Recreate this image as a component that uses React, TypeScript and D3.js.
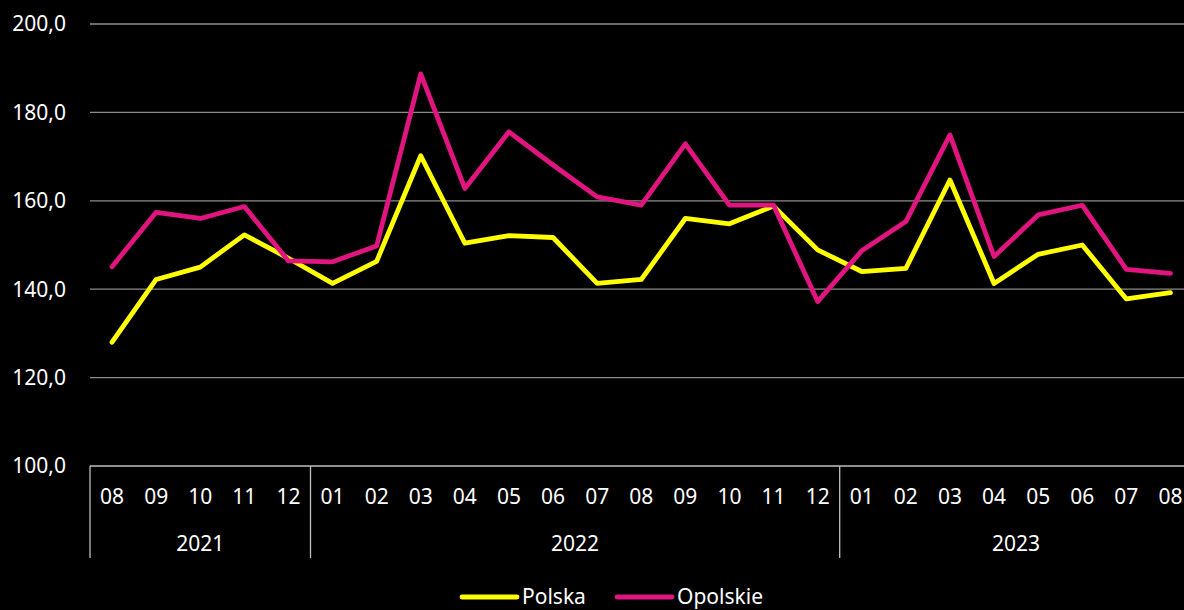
import * as React from "react";
import * as d3 from "d3";

const months = [
  "08", "09", "10", "11", "12",
  "01", "02", "03", "04", "05", "06", "07", "08", "09", "10", "11", "12",
  "01", "02", "03", "04", "05", "06", "07", "08",
];
const years = ["2021", "2022", "2023"];
const monthsPerYear = [5, 12, 8];

const polska = [
  128.0, 142.2, 145.0, 152.3, 147.0,
  141.3, 146.3, 170.2, 150.4, 152.1, 151.7, 141.3, 142.2, 156.0, 154.8, 158.8, 148.9,
  144.0, 144.7, 164.7, 141.3, 147.9, 150.0, 137.8, 139.2,
];
const opolskie = [
  145.1, 157.4, 156.0, 158.7, 146.4,
  146.2, 149.8, 188.7, 162.8, 175.6, 168.1, 160.9, 159.0, 172.9, 159.0, 159.0, 137.2,
  148.7, 155.3, 174.9, 147.4, 156.8, 159.0, 144.5, 143.6,
];
const yTicks = [100, 120, 140, 160, 180, 200];

const series = [
  { name: "Polska", values: polska, color: "#ffff00" },
  { name: "Opolskie", values: opolskie, color: "#e0157f" },
];

const width = 1184;
const height = 610;
const font = "'Noto Sans', sans-serif";

export default function App() {
  const left = 90;
  const step = 44.1;
  const top = 24;
  const bottom = 466;

  const x = d3
    .scaleBand()
    .domain(months.map((m, i) => String(i)))
    .range([left, left + step * months.length]);
  const y = d3.scaleLinear().domain([100, 200]).range([bottom, top]);

  const line = d3
    .line<number>()
    .x((d, i) => x(String(i))! + x.bandwidth() / 2)
    .y((d) => y(d));

  // year group boundaries
  let acc = 0;
  const groups = years.map((yr, i) => {
    const start = acc;
    acc += monthsPerYear[i];
    return { yr, start, end: acc };
  });

  return (
    <div style={{ position: "fixed", left: 0, top: 0, width, height, background: "#000" }}>
      <svg width={width} height={height} style={{ display: "block" }}>
        <rect width={width} height={height} fill="#000" />
        {yTicks.map((t) => (
          <g key={t}>
            {t > 100 && (
              <line x1={left} x2={width} y1={y(t)} y2={y(t)} stroke="#8c8c8c" strokeWidth={1.3} />
            )}
            <text
              x={66}
              y={y(t)}
              dy="0.35em"
              textAnchor="end"
              fill="#fff"
              fontFamily={font}
              fontSize={21}
            >
              {t.toFixed(1).replace(".", ",")}
            </text>
          </g>
        ))}
        <line x1={left} x2={width} y1={bottom} y2={bottom} stroke="#bfbfbf" strokeWidth={1.3} />
        {months.map((m, i) => (
          <text
            key={i}
            x={x(String(i))! + x.bandwidth() / 2}
            y={504}
            textAnchor="middle"
            fill="#fff"
            fontFamily={font}
            fontSize={21}
          >
            {m}
          </text>
        ))}
        {groups.map((g) => {
          const x0 = x(String(g.start))!;
          const x1 = g.end < months.length ? x(String(g.end))! : left + step * months.length;
          return (
            <g key={g.yr}>
              <line x1={x0} x2={x0} y1={bottom} y2={558} stroke="#bfbfbf" strokeWidth={1.3} />
              <text
                x={(x0 + Math.min(x1, width + 10)) / 2}
                y={551}
                textAnchor="middle"
                fill="#fff"
                fontFamily={font}
                fontSize={21}
              >
                {g.yr}
              </text>
            </g>
          );
        })}
        {series.map((s) => (
          <path
            key={s.name}
            d={line(s.values)!}
            fill="none"
            stroke={s.color}
            strokeWidth={4.8}
            strokeLinejoin="round"
            strokeLinecap="round"
          />
        ))}
        {series.map((s, i) => {
          const lx = 462 + i * 155;
          return (
            <g key={s.name}>
              <line x1={lx} x2={lx + 55} y1={597} y2={597} stroke={s.color} strokeWidth={4.8} strokeLinecap="round" />
              <text x={lx + 60} y={604} fill="#fff" fontFamily={font} fontSize={21}>
                {s.name}
              </text>
            </g>
          );
        })}
      </svg>
    </div>
  );
}
